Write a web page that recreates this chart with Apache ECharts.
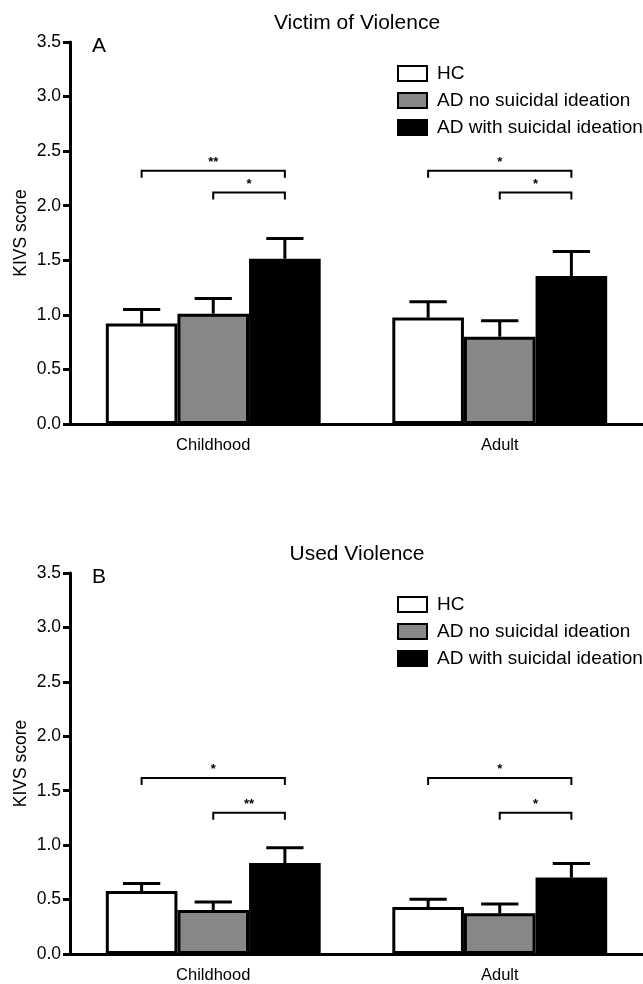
<!DOCTYPE html>
<html>
<head>
<meta charset="utf-8">
<script src="https://cdn.jsdelivr.net/npm/echarts@6/dist/echarts.min.js"></script>
<style>
html,body{margin:0;padding:0;background:#fff;}
#chart{width:643px;height:984px;}
</style>
</head>
<body>
<div id="chart"></div>
<script>
// ---- Data ----
var categories = ['Childhood', 'Adult'];
var groups = ['HC', 'AD no suicidal ideation', 'AD with suicidal ideation'];
var yTicks = [0, 0.5, 1.0, 1.5, 2.0, 2.5, 3.0, 3.5];

// Panel A: Victim of Violence (mean, SEM)
var victimHC = [0.92, 0.975];
var victimHCErr = [0.13, 0.145];
var victimNoSI = [1.01, 0.80];
var victimNoSIErr = [0.14, 0.145];
var victimWithSI = [1.515, 1.355];
var victimWithSIErr = [0.185, 0.225];

// Panel B: Used Violence (mean, SEM)
var usedHC = [0.578, 0.432];
var usedHCErr = [0.07, 0.07];
var usedNoSI = [0.405, 0.374];
var usedNoSIErr = [0.073, 0.085];
var usedWithSI = [0.836, 0.702];
var usedWithSIErr = [0.14, 0.13];

// Significance brackets: [categoryIndex, level, fromGroup, toGroup]
var victimBrackets = [[0, 2.32, 0, 2], [0, 2.12, 1, 2], [1, 2.32, 0, 2], [1, 2.12, 1, 2]];
var victimBracketLabels = ['**', '*', '*', '*'];
var usedBrackets = [[0, 1.617, 0, 2], [0, 1.298, 1, 2], [1, 1.617, 0, 2], [1, 1.298, 1, 2]];
var usedBracketLabels = ['*', '**', '*', '*'];

var panelTitles = ['Victim of Violence', 'Used Violence'];
var panelLetters = ['A', 'B'];
var yAxisName = 'KIVS score';

// ---- Build chart ----
var FONT = 'Liberation Sans, Arial, sans-serif';
var fills = ['#ffffff', '#878787', '#000000'];
var BAR_FRAC = 0.25;

var panels = [
  {means: [victimHC, victimNoSI, victimWithSI], errs: [victimHCErr, victimNoSIErr, victimWithSIErr],
   brackets: victimBrackets, labels: victimBracketLabels, top: 42, height: 382},
  {means: [usedHC, usedNoSI, usedWithSI], errs: [usedHCErr, usedNoSIErr, usedWithSIErr],
   brackets: usedBrackets, labels: usedBracketLabels, top: 573, height: 384}
];

var grids = [], xAxes = [], yAxes = [], series = [], titles = [], legends = [];

panels.forEach(function (p, pi) {
  grids.push({left: 70, top: p.top, width: 575, height: p.height, containLabel: false});
  xAxes.push({
    type: 'category', gridIndex: pi, data: categories,
    axisLine: {lineStyle: {color: '#000', width: 3}},
    axisTick: {alignWithLabel: true, length: 7, lineStyle: {color: '#000', width: 3}},
    axisLabel: {color: '#000', fontSize: 16.5, fontFamily: FONT, margin: 13}
  });
  yAxes.push({
    type: 'value', gridIndex: pi, min: 0, max: 3.5, interval: 0.5,
    name: yAxisName, nameLocation: 'middle', nameGap: 40, nameMoveOverlap: false,
    nameTextStyle: {color: '#000', fontSize: 17.5, fontFamily: FONT},
    axisLine: {show: true, lineStyle: {color: '#000', width: 3}},
    axisTick: {show: true, length: 7, lineStyle: {color: '#000', width: 3}},
    splitLine: {show: false},
    axisLabel: {color: '#000', fontSize: 17.5, fontFamily: FONT, margin: 9,
      formatter: function (v) { return v.toFixed(1); }}
  });
  titles.push({text: panelTitles[pi], left: 352, top: p.top - 34, textAlign: 'center',
    textStyle: {fontSize: 21, fontWeight: 'normal', color: '#000', fontFamily: FONT}});
  titles.push({text: panelLetters[pi], left: 87, top: p.top - 11,
    textStyle: {fontSize: 21, fontWeight: 'normal', color: '#000', fontFamily: FONT}});
  legends.push({
    orient: 'vertical', left: 392, top: p.top + 17, itemWidth: 29, itemHeight: 15, itemGap: 8,
    icon: 'rect', data: groups, selectedMode: false,
    textStyle: {fontSize: 19, color: '#000', fontFamily: FONT, padding: [0, 0, 0, 5]}
  });

  groups.forEach(function (g, gi) {
    series.push({
      type: 'bar', name: g, xAxisIndex: pi, yAxisIndex: pi,
      data: p.means[gi], barWidth: (BAR_FRAC * 100) + '%', barGap: '0%',
      itemStyle: {color: fills[gi], borderColor: '#000', borderWidth: 3},
      emphasis: {disabled: true}, z: 2
    });
  });

  // error bars
  var errData = [];
  groups.forEach(function (g, gi) {
    p.means[gi].forEach(function (m, ci) { errData.push([ci, m, p.errs[gi][ci], gi]); });
  });
  series.push({
    type: 'custom', xAxisIndex: pi, yAxisIndex: pi, data: errData, z: 3, silent: true,
    renderItem: function (params, api) {
      var ci = api.value(0), m = api.value(1), e = api.value(2), gi = api.value(3);
      var base = api.coord([ci, m]);
      var top = api.coord([ci, m + e]);
      var band = api.size([1, 0])[0];
      var bw = band * BAR_FRAC;
      var cx = base[0] + (gi - 1) * bw;
      var half = bw * 0.26;
      var st = {stroke: '#000', lineWidth: 3, fill: null};
      return {type: 'group', children: [
        {type: 'line', shape: {x1: cx, y1: base[1], x2: cx, y2: top[1]}, style: st},
        {type: 'line', shape: {x1: cx - half, y1: top[1], x2: cx + half, y2: top[1]}, style: st}
      ]};
    }
  });

  // significance brackets
  var labs = p.labels;
  series.push({
    type: 'custom', xAxisIndex: pi, yAxisIndex: pi, data: p.brackets, z: 3, silent: true,
    renderItem: function (params, api) {
      var ci = api.value(0), lvl = api.value(1), g1 = api.value(2), g2 = api.value(3);
      var c = api.coord([ci, lvl]);
      var band = api.size([1, 0])[0];
      var bw = band * BAR_FRAC;
      var x1 = c[0] + (g1 - 1) * bw, x2 = c[0] + (g2 - 1) * bw;
      var y = c[1], d = 7;
      return {type: 'group', children: [
        {type: 'polyline', shape: {points: [[x1, y + d], [x1, y], [x2, y], [x2, y + d]]},
         style: {stroke: '#000', lineWidth: 2, fill: null}},
        {type: 'text', x: (x1 + x2) / 2, y: y - 2,
         style: {text: labs[params.dataIndex], fill: '#000', fontSize: 13, fontWeight: 'bold',
                 fontFamily: FONT, align: 'center', verticalAlign: 'bottom'}}
      ]};
    }
  });
});

var chart = echarts.init(document.getElementById('chart'), null, {renderer: 'canvas'});
chart.setOption({
  animation: false,
  backgroundColor: '#fff',
  title: titles,
  legend: legends,
  grid: grids,
  xAxis: xAxes,
  yAxis: yAxes,
  series: series
});
</script>
</body>
</html>
